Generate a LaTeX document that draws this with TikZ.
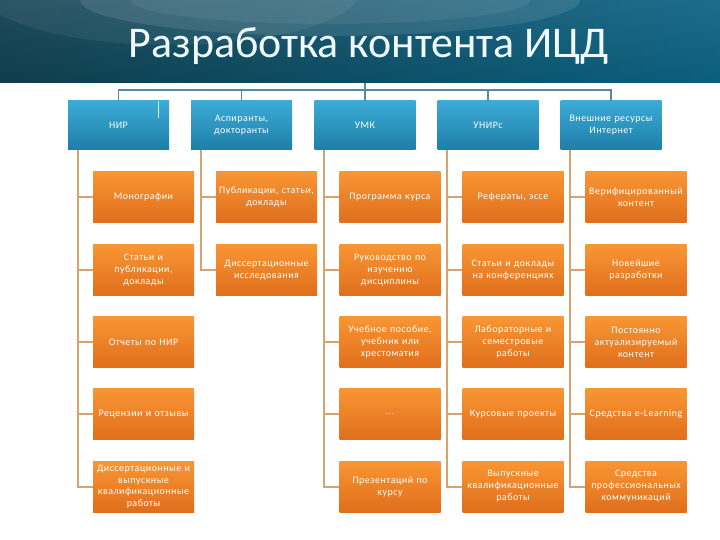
\documentclass[tikz,border=0pt]{standalone}
\usepackage{fontspec}
\setmainfont{Carlito}
\newfontfamily\boxfont[LetterSpace=5]{Carlito}
\usetikzlibrary{calc}

\definecolor{headdark}{RGB}{24,80,100}
\definecolor{headlight}{RGB}{18,140,188}
\definecolor{bluetop}{RGB}{60,172,214}
\definecolor{bluebot}{RGB}{30,126,168}
\definecolor{orangetop}{RGB}{248,150,52}
\definecolor{orangebot}{RGB}{224,110,28}
\definecolor{stemcol}{RGB}{214,162,112}
\definecolor{buscol}{RGB}{82,140,164}

\tikzset{
	headbox/.style={rectangle, minimum width=101bp, minimum height=49bp, text width=97bp, inner sep=2bp, align=center, top color=bluetop, bottom color=bluebot, text=white, font=\boxfont\fontsize{10}{12}\selectfont},
	itembox/.style={headbox, minimum height=51bp, inner sep=1bp, top color=orangetop, bottom color=orangebot},
	stem/.style={draw=stemcol, line width=2bp},
	bus/.style={draw=buscol, line width=1.6bp}
}

\begin{document}
\begin{tikzpicture}[x=1bp, y=-1bp]
		%%%%% HEADER %%%%%
		\useasboundingbox (0,0) rectangle (720,540);
		\fill[top color={rgb,255:red,96;green,160;blue,184}, bottom color={rgb,255:red,8;green,88;blue,112}] (0,0) rectangle (720,83);
		\fill[left color=headdark, right color=headlight, opacity=0.55] (0,0) rectangle (720,83);
		\begin{scope}
			\clip (0,0) rectangle (720,83);
			\fill[white, opacity=0.1] (330,0) ellipse (250 and 36);
			\fill[white, opacity=0.06] (330,0) ellipse (200 and 24);
			\fill[white, opacity=0.06] (170,-10) ellipse (190 and 55);
		\end{scope}
		\node[font=\fontsize{44}{48}\selectfont, text=white!94!cyan] (title) at (369,46) {Разработка контента ИЦД};
		
		%%%%% TOP ROW %%%%%
		\node[headbox] (nir) at (118.5,125.5) {НИР};
		\node[headbox] (asp) at (241.5,125.5) {Аспиранты,\\ докторанты};
		\node[headbox] (umk) at (365,125.5) {УМК};
		\node[headbox] (unir) at (488,125.5) {УНИРс};
		\node[headbox] (ext) at (611,125.5) {Внешние ресурсы\\ Интернет};
		
		\coordinate (root) at (365,83);
		\draw[bus] (root) -- (umk.north);
		\draw[bus] (nir.north) -- ++(0,-11) -| (ext.north);
		\draw[bus] (asp.north) -- ++(0,-11);
		\draw[bus] (unir.north) -- ++(0,-11);
		\draw[white!75!bluetop, line width=0.8bp] ([xshift=40bp]nir.north) -- ++(0,17);
		
		%%%%% НИР %%%%%
		\node[itembox] (nir1) at (143.5,197) {Монографии};
		\node[itembox] (nir2) at (143.5,270) {Статьи и\\ публикации,\\ доклады};
		\node[itembox] (nir3) at (143.5,342) {Отчеты по НИР};
		\node[itembox] (nir4) at (143.5,414) {Рецензии и отзывы};
		\node[itembox, font=\boxfont\fontsize{10}{11.5}\selectfont] (nir5) at (143.5,486.5) {Диссертационные и\\ выпускные\\ квалификационные\\ работы};
		
		%%%%% АСПИРАНТЫ %%%%%
		\node[itembox] (asp1) at (266.5,197) {Публикации, статьи,\\ доклады};
		\node[itembox] (asp2) at (266.5,270) {Диссертационные\\ исследования};
		
		%%%%% УМК %%%%%
		\node[itembox] (umk1) at (390,197) {Программа курса};
		\node[itembox] (umk2) at (390,270) {Руководство по\\ изучению\\ дисциплины};
		\node[itembox] (umk3) at (390,342) {Учебное пособие,\\ учебник или\\ хрестоматия};
		\node[itembox, text=white!65!orangetop] (umk4) at (390,414) {...};
		\node[itembox] (umk5) at (390,486.5) {Презентаций по\\ курсу};
		
		%%%%% УНИРс %%%%%
		\node[itembox] (unir1) at (513,197) {Рефераты, эссе};
		\node[itembox] (unir2) at (513,270) {Статьи и доклады\\ на конференциях};
		\node[itembox] (unir3) at (513,342) {Лабораторные и\\ семестровые\\ работы};
		\node[itembox] (unir4) at (513,414) {Курсовые проекты};
		\node[itembox] (unir5) at (513,486.5) {Выпускные\\ квалификационные\\ работы};
		
		%%%%% ИНТЕРНЕТ %%%%%
		\node[itembox] (ext1) at (636,197) {Верифицированный\\ контент};
		\node[itembox] (ext2) at (636,270) {Новейшие\\ разработки};
		\node[itembox] (ext3) at (636,342) {Постоянно\\ актуализируемый\\ контент};
		\node[itembox] (ext4) at (636,414) {Средства e-Learning};
		\node[itembox] (ext5) at (636,486.5) {Средства\\ профессиональных\\ коммуникаций};
		
		%%%%% STEMS %%%%%
		\draw[stem] ([xshift=10bp]nir.south west) |- (nir1.west);
		\draw[stem] ([xshift=10bp]nir.south west) |- (nir2.west);
		\draw[stem] ([xshift=10bp]nir.south west) |- (nir3.west);
		\draw[stem] ([xshift=10bp]nir.south west) |- (nir4.west);
		\draw[stem] ([xshift=10bp]nir.south west) |- (nir5.west);
		
		\draw[stem] ([xshift=10bp]asp.south west) |- (asp1.west);
		\draw[stem] ([xshift=10bp]asp.south west) |- (asp2.west);
		
		\draw[stem] ([xshift=10bp]umk.south west) |- (umk1.west);
		\draw[stem] ([xshift=10bp]umk.south west) |- (umk2.west);
		\draw[stem] ([xshift=10bp]umk.south west) |- (umk3.west);
		\draw[stem] ([xshift=10bp]umk.south west) |- (umk4.west);
		\draw[stem] ([xshift=10bp]umk.south west) |- (umk5.west);
		
		\draw[stem] ([xshift=10bp]unir.south west) |- (unir1.west);
		\draw[stem] ([xshift=10bp]unir.south west) |- (unir2.west);
		\draw[stem] ([xshift=10bp]unir.south west) |- (unir3.west);
		\draw[stem] ([xshift=10bp]unir.south west) |- (unir4.west);
		\draw[stem] ([xshift=10bp]unir.south west) |- (unir5.west);
		
		\draw[stem] ([xshift=10bp]ext.south west) |- (ext1.west);
		\draw[stem] ([xshift=10bp]ext.south west) |- (ext2.west);
		\draw[stem] ([xshift=10bp]ext.south west) |- (ext3.west);
		\draw[stem] ([xshift=10bp]ext.south west) |- (ext4.west);
		\draw[stem] ([xshift=10bp]ext.south west) |- (ext5.west);
\end{tikzpicture}
\end{document}
